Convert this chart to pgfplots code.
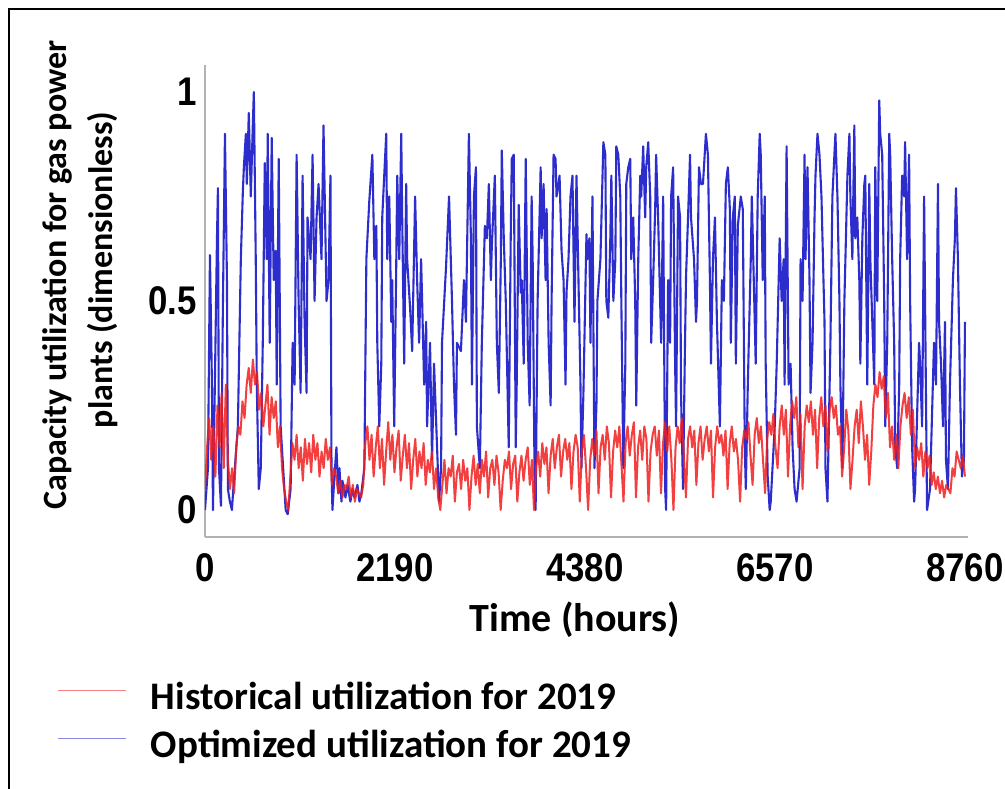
\documentclass[border=0pt]{standalone}
\usepackage{fontspec}
\setmainfont{Carlito}
\newfontfamily\tickfont{Liberation Sans}[FakeStretch=0.87]
\usepackage{pgfplots}
\usepackage{pgfplotstable}
\pgfplotsset{compat=1.18}
\definecolor{myblue}{RGB}{45,45,205}
\definecolor{myred}{RGB}{240,30,30}

% Historical utilization, one value per day (24 h steps)
\pgfplotstableread[header=false,row sep=\\]{
0.05\\0.15\\0.22\\0.12\\
0.2\\0.08\\0.25\\0.15\\0.28\\0.1\\0.3\\
0.12\\0.05\\0.1\\0.04\\
0.15\\0.2\\0.18\\0.26\\0.22\\0.3\\
0.34\\0.28\\0.36\\0.3\\0.33\\0.24\\
0.28\\0.2\\0.25\\0.3\\0.18\\0.27\\0.22\\
0.26\\0.15\\0.2\\0.1\\0.05\\0.02\\0.0\\
0.08\\0.16\\0.12\\0.18\\0.1\\0.15\\0.07\\0.17\\0.11\\0.16\\0.09\\0.18\\0.12\\0.16\\0.08\\0.14\\0.1\\0.17\\0.12\\0.15\\0.06\\0.1\\
0.08\\0.04\\0.07\\0.03\\0.06\\0.05\\0.08\\0.03\\0.06\\0.02\\0.05\\0.04\\0.03\\0.06\\
0.16\\0.2\\0.12\\0.18\\0.08\\0.15\\0.2\\0.1\\0.17\\0.06\\0.14\\0.21\\0.12\\0.18\\0.09\\0.15\\0.19\\0.07\\0.13\\0.18\\0.1\\0.16\\0.05\\0.12\\0.17\\0.08\\0.14\\0.1\\0.16\\0.06\\0.12\\0.09\\0.14\\0.05\\0.1\\0.03\\0.0\\
0.06\\0.12\\0.04\\0.1\\0.08\\0.13\\0.02\\0.09\\0.11\\0.05\\0.12\\0.07\\0.1\\0.0\\0.08\\0.13\\0.06\\0.11\\0.04\\0.12\\0.08\\0.14\\0.03\\0.1\\0.12\\0.06\\0.13\\0.09\\0.0\\0.07\\0.12\\0.1\\0.14\\0.05\\0.11\\0.13\\0.02\\0.09\\0.13\\0.07\\0.12\\0.15\\0.06\\0.12\\0.0\\0.1\\0.14\\0.08\\0.16\\0.11\\0.15\\0.04\\0.13\\0.17\\0.1\\0.15\\0.18\\0.08\\0.14\\0.17\\0.12\\0.16\\0.05\\0.14\\0.18\\
0.15\\0.02\\0.14\\0.18\\0.1\\0.0\\0.12\\0.17\\0.13\\0.19\\0.04\\0.15\\0.18\\0.12\\0.2\\0.16\\0.03\\0.14\\0.19\\0.15\\0.2\\0.11\\0.02\\0.16\\0.2\\0.13\\0.18\\0.21\\0.03\\0.15\\0.19\\0.12\\0.2\\0.17\\0.02\\0.14\\0.18\\0.2\\0.13\\0.19\\0.04\\0.16\\0.21\\0.14\\0.2\\0.12\\0.0\\0.15\\0.2\\0.16\\0.22\\0.13\\0.03\\0.17\\0.2\\0.15\\0.19\\0.06\\0.16\\0.2\\0.12\\
0.17\\0.2\\0.14\\0.19\\0.03\\0.15\\0.2\\0.16\\0.18\\0.13\\0.19\\0.05\\0.16\\0.2\\0.14\\0.17\\0.12\\0.02\\0.15\\0.19\\0.17\\0.21\\0.13\\0.06\\0.18\\0.22\\0.16\\0.2\\0.12\\0.04\\0.17\\0.21\\0.18\\0.23\\0.15\\0.1\\
0.2\\0.25\\0.18\\0.24\\0.08\\0.2\\0.26\\0.22\\0.27\\0.15\\0.23\\0.05\\0.2\\0.25\\0.21\\0.26\\0.18\\0.24\\0.1\\0.22\\0.27\\0.2\\0.25\\0.14\\0.24\\
0.27\\0.22\\0.25\\0.18\\0.2\\0.08\\0.15\\0.24\\0.19\\0.05\\
0.12\\0.2\\0.24\\0.16\\0.26\\0.2\\0.12\\0.18\\0.06\\0.14\\
0.25\\0.3\\0.27\\0.33\\0.29\\0.32\\0.22\\0.28\\0.15\\0.2\\
0.12\\0.18\\0.1\\0.2\\0.25\\0.28\\0.22\\0.27\\0.18\\0.24\\
0.1\\0.15\\0.12\\0.16\\0.08\\0.14\\0.1\\0.13\\0.06\\0.09\\
0.05\\0.08\\0.04\\0.07\\0.03\\0.06\\0.05\\0.04\\0.1\\0.08\\
0.14\\0.12\\0.1\\0.13\\0.08\\
}\redtab

\begin{document}
\begin{tikzpicture}
\useasboundingbox (0pt,0pt) rectangle (1005pt,789pt);
\fill[white] (0pt,0pt) rectangle (1005pt,789pt);
\draw[line width=2pt] (9pt,0pt) -- (9pt,780pt) -- (1005pt,780pt);
\begin{axis}[
  at={(205pt,252pt)}, anchor=south west,
  width=763pt, height=472pt, scale only axis,
  xmin=0, xmax=8795, ymin=-0.0646, ymax=1.0646,
  axis x line*=bottom, axis y line*=left,
  axis line style={-, draw=gray!60, line width=1.5pt},
  major tick length=0pt,
  xtick={0,2190,4380,6570,8760}, xticklabels={0,2190,4380,6570,8760},
  ytick={0,0.5,1}, yticklabels={0,0.5,1},
  /pgf/number format/assume math mode=true,
  ticklabel style={font=\tickfont\bfseries\fontsize{40}{40}\selectfont, inner sep=0pt},
  xticklabel style={anchor=north, yshift=-16pt},
  yticklabel style={anchor=east, xshift=-8pt},
  legend style={at={(-0.194,-0.303)}, anchor=north west, draw=none, fill=none,
    font=\bfseries\fontsize{39}{39}\selectfont, row sep=9pt, inner sep=0pt,
    nodes={inner sep=0pt, text height=29pt, text depth=10pt}},
  legend cell align=left,
  legend image code/.code={\path[draw=none, fill=none, opacity=0] (0pt,0pt) -- (93pt,0pt);
    \draw[#1, line width=1.5pt, opacity=0.55] (0pt,9pt) -- (68pt,9pt);},
  reverse legend,
]
\addplot[myblue, line width=2.1pt, line join=round] coordinates {
(0,0.0)(34,0.1)(57,0.61)(80,0.3)(92,0.0)(115,0.32)(138,0.65)(149,0.77)(161,0.1)(184,0.01)
(207,0.5)(230,0.9)(253,0.55)(264,0.05)(287,0.02)(310,0.0)(333,0.07)(344,0.1)(379,0.2)(413,0.6)
(436,0.76)(448,0.82)(471,0.9)(482,0.78)(505,0.95)(528,0.75)(551,0.92)(563,1.0)(585,0.6)(597,0.3)
(620,0.05)(643,0.1)(666,0.4)(689,0.83)(712,0.6)(723,0.9)(746,0.4)(769,0.89)(792,0.55)(815,0.62)
(827,0.3)(850,0.84)(872,0.2)(895,0.12)(930,0.0)(953,-0.01)(987,0.05)(1010,0.4)(1033,0.3)(1056,0.85)
(1079,0.5)(1102,0.28)(1125,0.8)(1148,0.45)(1171,0.28)(1182,0.7)(1217,0.6)(1240,0.85)(1263,0.5)(1286,0.7)
(1309,0.78)(1343,0.6)(1366,0.92)(1401,0.5)(1424,0.55)(1446,0.8)(1458,0.1)(1469,0.0)(1492,0.08)(1515,0.15)
(1538,0.04)(1550,0.1)(1573,0.02)(1584,0.07)(1619,0.03)(1642,0.06)(1676,0.02)(1700,0.05)(1722,0.03)(1757,0.06)
(1780,0.02)(1802,0.04)(1837,0.1)(1860,0.6)(1894,0.74)(1929,0.85)(1952,0.6)(1975,0.68)(1986,0.4)(2009,0.2)
(2032,0.35)(2043,0.7)(2089,0.9)(2101,0.6)(2124,0.75)(2147,0.45)(2158,0.55)(2181,0.2)(2204,0.58)(2216,0.8)
(2239,0.6)(2262,0.9)(2273,0.7)(2296,0.35)(2319,0.78)(2330,0.6)(2365,0.48)(2388,0.38)(2422,0.75)(2445,0.55)
(2468,0.4)(2491,0.6)(2503,0.5)(2526,0.3)(2549,0.45)(2560,0.2)(2594,0.4)(2617,0.12)(2640,0.35)(2675,0.15)
(2698,0.02)(2721,0.1)(2732,0.4)(2778,0.58)(2813,0.75)(2847,0.5)(2870,0.3)(2893,0.18)(2904,0.4)(2950,0.38)
(2985,0.55)(3008,0.45)(3019,0.6)(3042,0.9)(3065,0.65)(3077,0.3)(3100,0.75)(3123,0.82)(3134,0.2)(3168,0.1)
(3191,0.4)(3226,0.68)(3249,0.65)(3272,0.78)(3295,0.55)(3306,0.63)(3341,0.8)(3364,0.4)(3387,0.28)(3410,0.6)
(3421,0.86)(3444,0.65)(3467,0.5)(3501,0.15)(3524,0.65)(3536,0.84)(3559,0.85)(3582,0.15)(3593,0.3)(3616,0.73)
(3639,0.52)(3651,0.55)(3674,0.35)(3697,0.84)(3720,0.4)(3742,0.25)(3765,0.75)(3777,0.6)(3800,0.05)(3811,0.0)
(3834,0.5)(3869,0.82)(3880,0.65)(3903,0.78)(3926,0.55)(3938,0.72)(3961,0.4)(3984,0.25)(3995,0.5)(4018,0.85)
(4041,0.84)(4052,0.75)(4087,0.8)(4110,0.62)(4133,0.55)(4156,0.3)(4167,0.52)(4190,0.6)(4213,0.75)(4236,0.8)
(4259,0.45)(4282,0.8)(4305,0.55)(4328,0.3)(4339,0.1)(4362,0.28)(4397,0.66)(4408,0.6)(4431,0.65)(4443,0.4)
(4466,0.75)(4489,0.1)(4512,0.25)(4523,0.5)(4558,0.6)(4592,0.88)(4615,0.85)(4626,0.5)(4649,0.46)(4672,0.65)
(4684,0.8)(4707,0.5)(4730,0.6)(4741,0.87)(4764,0.85)(4787,0.75)(4799,0.5)(4822,0.1)(4845,0.35)(4856,0.78)
(4879,0.82)(4902,0.84)(4913,0.6)(4936,0.7)(4959,0.5)(4971,0.25)(4994,0.6)(5017,0.8)(5028,0.75)(5051,0.87)
(5074,0.7)(5086,0.82)(5109,0.88)(5132,0.75)(5143,0.4)(5166,0.55)(5189,0.72)(5200,0.85)(5223,0.7)(5246,0.5)
(5258,0.4)(5281,0.75)(5304,0.05)(5315,0.0)(5338,0.55)(5361,0.4)(5373,0.75)(5396,0.82)(5419,0.35)(5430,0.2)
(5453,0.75)(5476,0.7)(5487,0.28)(5510,0.05)(5533,0.4)(5545,0.56)(5568,0.7)(5591,0.85)(5602,0.7)(5637,0.6)
(5660,0.45)(5671,0.5)(5694,0.82)(5717,0.78)(5740,0.78)(5774,0.9)(5797,0.85)(5820,0.55)(5832,0.35)(5855,0.6)
(5878,0.7)(5901,0.45)(5935,0.2)(5958,0.55)(5981,0.5)(6004,0.78)(6027,0.82)(6050,0.72)(6061,0.4)(6084,0.7)
(6107,0.75)(6119,0.35)(6142,0.68)(6176,0.75)(6199,0.72)(6222,0.15)(6234,0.05)(6257,0.3)(6291,0.6)(6303,0.75)
(6337,0.45)(6348,0.35)(6371,0.75)(6394,0.9)(6406,0.85)(6429,0.55)(6452,0.75)(6463,0.35)(6486,0.08)(6509,0.0)
(6521,0.02)(6567,0.2)(6590,0.35)(6624,0.65)(6647,0.5)(6670,0.6)(6681,0.3)(6704,0.87)(6727,0.3)(6750,0.35)
(6773,0.15)(6796,0.05)(6819,0.02)(6854,0.1)(6865,0.6)(6888,0.5)(6911,0.85)(6922,0.6)(6945,0.82)(6968,0.55)
(6980,0.28)(7003,0.4)(7026,0.7)(7037,0.8)(7060,0.9)(7083,0.85)(7106,0.75)(7129,0.55)(7141,0.45)(7152,0.1)
(7175,0.02)(7209,0.4)(7232,0.75)(7255,0.85)(7267,0.9)(7290,0.75)(7313,0.5)(7324,0.3)(7347,0.1)(7370,0.5)
(7382,0.6)(7405,0.8)(7428,0.9)(7439,0.75)(7462,0.6)(7485,0.92)(7496,0.65)(7519,0.7)(7542,0.55)(7554,0.35)
(7577,0.65)(7600,0.78)(7611,0.8)(7634,0.3)(7657,0.78)(7669,0.6)(7692,0.45)(7715,0.3)(7726,0.82)(7749,0.5)
(7772,0.98)(7783,0.9)(7806,0.85)(7829,0.5)(7841,0.2)(7864,0.4)(7887,0.9)(7898,0.85)(7921,0.6)(7944,0.4)
(7956,0.15)(7979,0.1)(8002,0.3)(8013,0.6)(8036,0.8)(8059,0.75)(8070,0.88)(8093,0.6)(8116,0.85)(8128,0.5)
(8151,0.15)(8174,0.02)(8185,0.05)(8231,0.4)(8243,0.35)(8266,0.2)(8289,0.75)(8300,0.5)(8323,0.0)(8357,0.05)
(8403,0.4)(8426,0.3)(8449,0.78)(8461,0.45)(8484,0.35)(8507,0.2)(8530,0.45)(8541,0.12)(8564,0.05)(8587,0.3)
(8621,0.55)(8644,0.65)(8656,0.77)(8679,0.6)(8702,0.3)(8725,0.08)(8748,0.12)(8760,0.45)
};
\addlegendentry{Optimized utilization for 2019}
\addplot[myred, line width=2pt, opacity=0.85, line join=round] table[x expr=\coordindex*24, y index=0] {\redtab};
\addlegendentry{Historical utilization for 2019}
\end{axis}
\node[font=\bfseries\fontsize{40}{40}\selectfont, anchor=base] at (575pt,157pt) {Time (hours)};
\node[font=\bfseries\fontsize{34}{34}\selectfont, rotate=90] at (57pt,514pt) {Capacity utilization for gas power};
\node[font=\bfseries\fontsize{34}{34}\selectfont, rotate=90] at (103pt,519pt) {plants (dimensionless)};
\end{tikzpicture}
\end{document}
